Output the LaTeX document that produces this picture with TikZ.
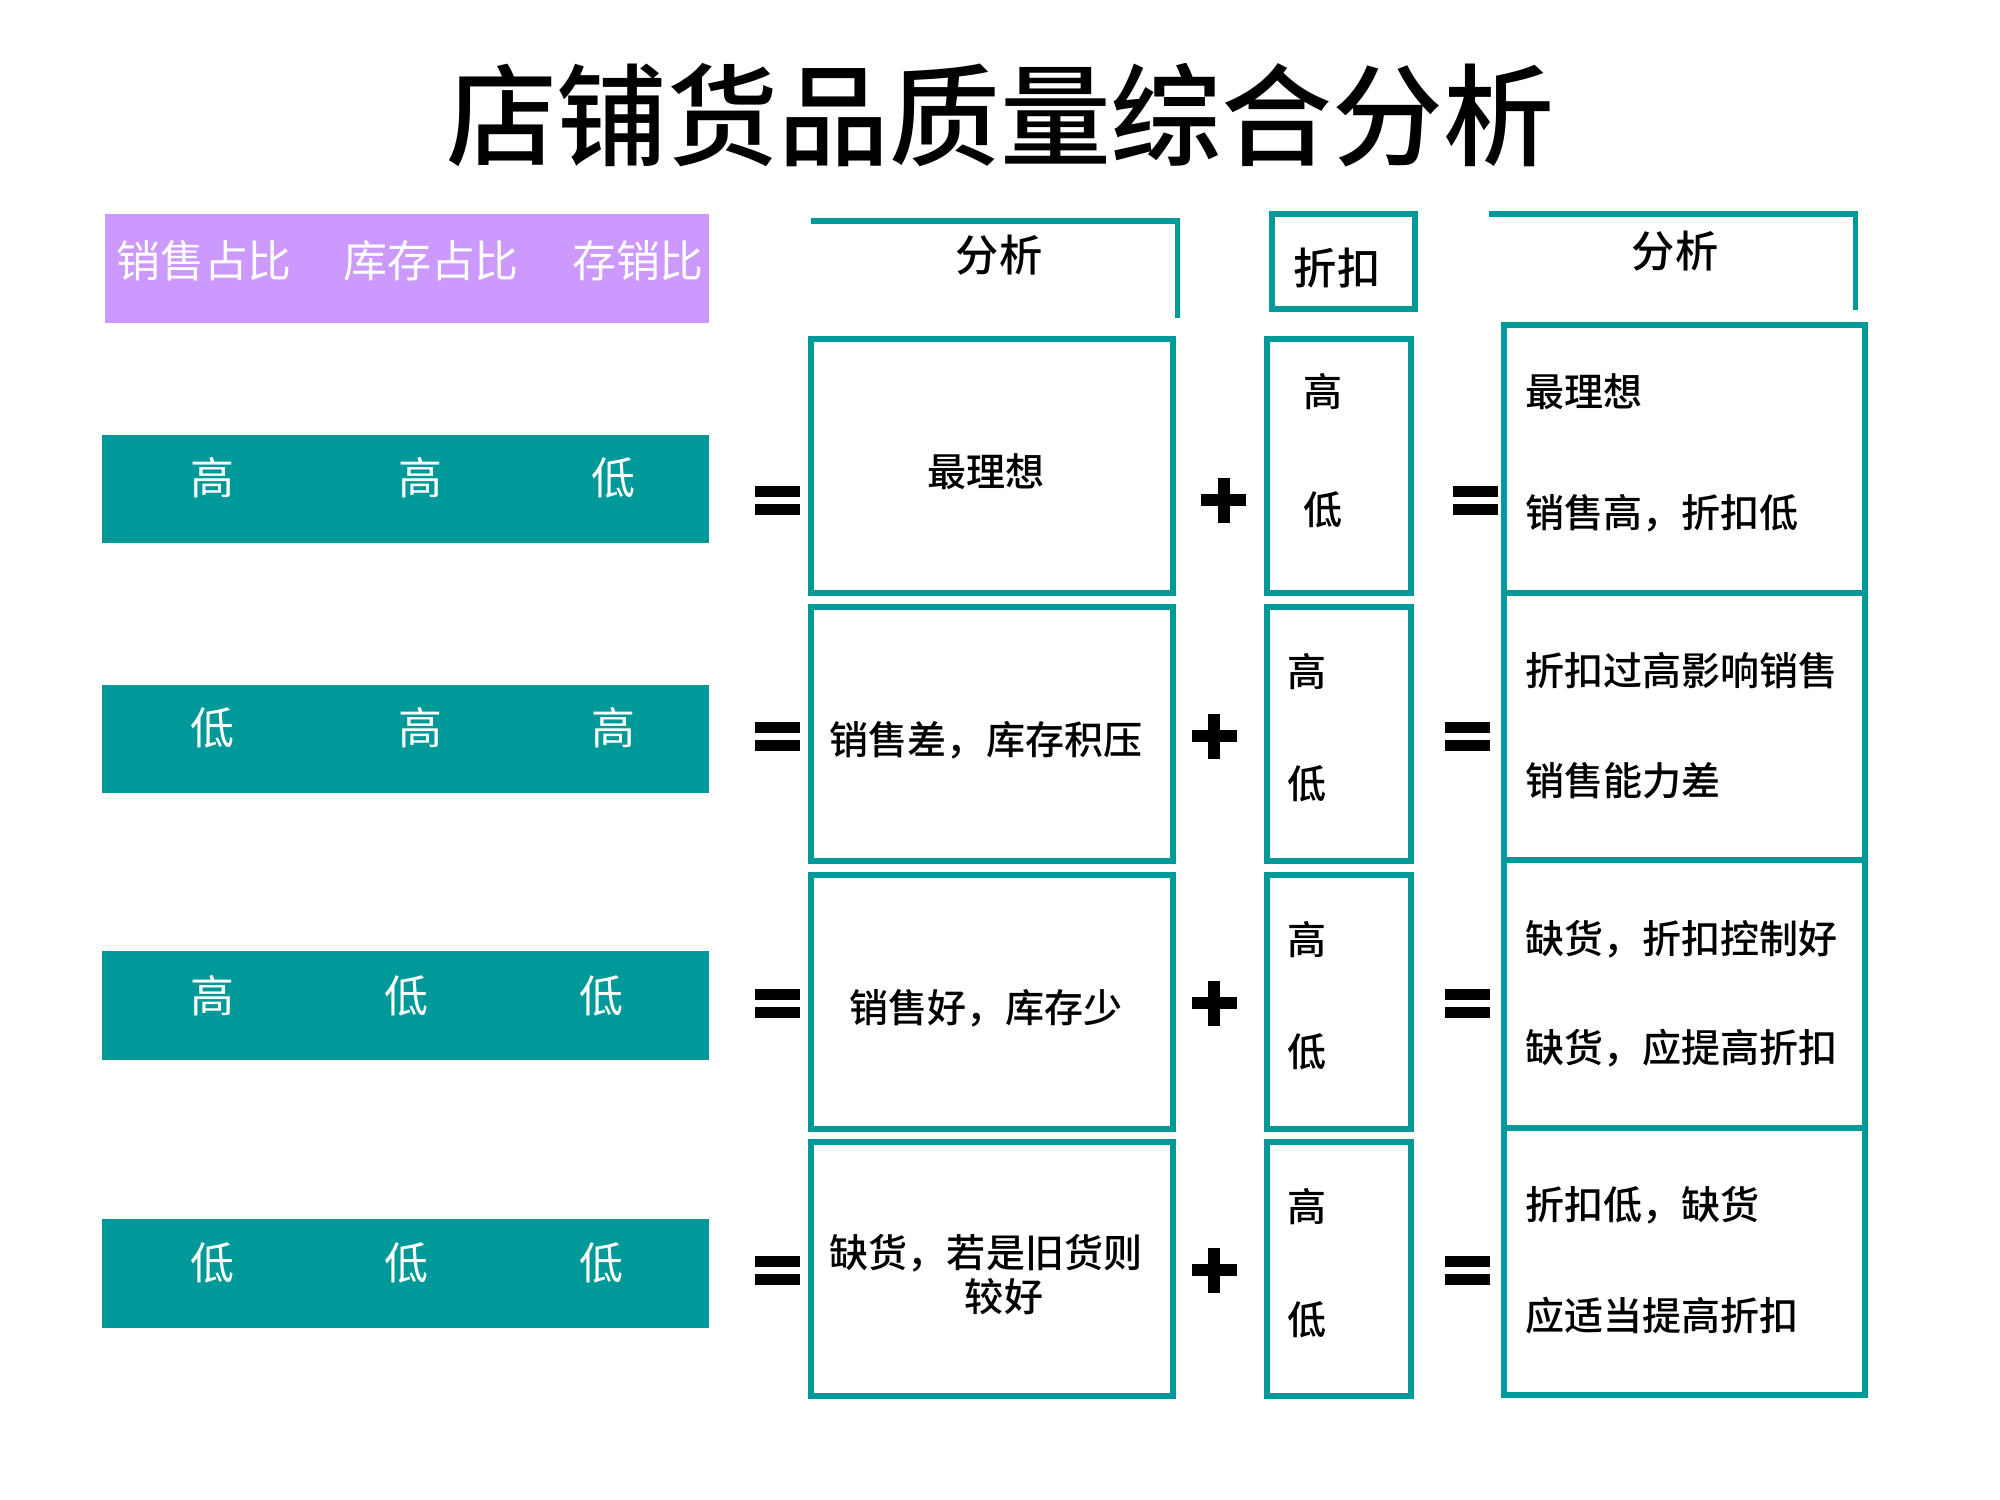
\documentclass[tikz,border=0pt]{standalone}
\usepackage{fontspec}
\newfontfamily\cjk{Noto Sans CJK SC}
\newfontfamily\cjkm{Noto Sans CJK SC Medium}
\definecolor{tealc}{HTML}{009999}
\definecolor{purplec}{HTML}{CC99FF}
\begin{document}
\begin{tikzpicture}[x=0.01cm,y=-0.01cm,
  every node/.style={inner sep=0pt,outer sep=0pt},
  bar/.style={fill=tealc,minimum width=6.07cm,minimum height=1.08cm},
  bartext/.style={text=white,font=\cjk\fontsize{12.5}{14}\selectfont},
  abox/.style={draw=tealc,line width=0.06cm,minimum width=3.62cm,minimum height=2.54cm},
  dbox/.style={draw=tealc,line width=0.06cm,minimum width=1.43cm,minimum height=2.54cm},
  rbox/.style={draw=tealc,line width=0.06cm,minimum width=3.61cm,minimum height=2.675cm},
  btext/.style={text=black,font=\cjkm\fontsize{11.1}{12.5}\selectfont},
  htext/.style={text=black,font=\cjkm\fontsize{12.3}{14}\selectfont},
  bracket/.style={draw=tealc,line width=0.05cm},
  sym/.style={fill=black}]
\useasboundingbox (0,0) rectangle (2000,1500);

% title
\node[font=\cjkm\fontsize{31.5}{36}\selectfont] (title) at (1000,115) {店铺货品质量综合分析};

% purple header
\node[fill=purplec,minimum width=6.04cm,minimum height=1.09cm] (hdr) at (407,268.5) {};
\node[bartext] (h1) at (204,261) {销售占比};
\node[bartext] (h2) at (431,261) {库存占比};
\node[bartext] (h3) at (638,261) {存销比};

% teal rows
\node[bar] (r1) at (405.5,489) {};
\node[bar] (r2) at (405.5,739) {};
\node[bar] (r3) at (405.5,1005.5) {};
\node[bar] (r4) at (405.5,1273.5) {};
\node[bartext] (r1a) at (212,478) {高};
\node[bartext] (r1b) at (420,478) {高};
\node[bartext] (r1c) at (613,478) {低};
\node[bartext] (r2a) at (212,728) {低};
\node[bartext] (r2b) at (420,728) {高};
\node[bartext] (r2c) at (613,728) {高};
\node[bartext] (r3a) at (212,996) {高};
\node[bartext] (r3b) at (406,996) {低};
\node[bartext] (r3c) at (601,996) {低};
\node[bartext] (r4a) at (212,1263) {低};
\node[bartext] (r4b) at (406,1263) {低};
\node[bartext] (r4c) at (601,1263) {低};

% analysis header bracket
\coordinate (b1s) at (811,221);
\coordinate (b1c) at (1177.5,221);
\coordinate (b1e) at (1177.5,318);
\draw[bracket] (b1s) -- (b1c) -- (b1e);
\node[htext] (ah) at (999,255) {分析};

% discount header
\node[draw=tealc,line width=0.06cm,minimum width=1.43cm,minimum height=0.95cm] (dh) at (1343.5,261.5) {};
\node[htext] (dht) at (1337,268) {折扣};

% right analysis header bracket
\coordinate (b2s) at (1489,214);
\coordinate (b2c) at (1855,214);
\coordinate (b2e) at (1855,310);
\draw[bracket] (b2s) -- (b2c) -- (b2e);
\node[htext] (rh) at (1675,251) {分析};

% analysis boxes
\node[abox] (a1) at (992,466) {};
\node[abox] (a2) at (992,734) {};
\node[abox] (a3) at (992,1002) {};
\node[abox] (a4) at (992,1269) {};
\node[btext] (a1t) at (986,472) {最理想};
\node[btext] (a2t) at (986,740) {销售差，库存积压};
\node[btext] (a3t) at (986,1008) {销售好，库存少};
\node[btext] (a4t) at (986,1253) {缺货，若是旧货则};
\node[btext] (a4u) at (1004,1297) {较好};

% discount boxes
\node[dbox] (d1) at (1339,466) {};
\node[dbox] (d2) at (1339,734) {};
\node[dbox] (d3) at (1339,1002) {};
\node[dbox] (d4) at (1339,1269) {};
\node[btext] (d1h) at (1323,392) {高};
\node[btext] (d1l) at (1323,510) {低};
\node[btext] (d2h) at (1307,672) {高};
\node[btext] (d2l) at (1307,784) {低};
\node[btext] (d3h) at (1307,940) {高};
\node[btext] (d3l) at (1307,1052) {低};
\node[btext] (d4h) at (1307,1207) {高};
\node[btext] (d4l) at (1307,1320) {低};

% result boxes
\node[rbox] (e1) at (1684.5,459) {};
\node[rbox] (e2) at (1684.5,726.5) {};
\node[rbox] (e3) at (1684.5,994) {};
\node[rbox] (e4) at (1684.5,1261.5) {};
\node[btext,anchor=west] (e1a) at (1525,392) {最理想};
\node[btext,anchor=west] (e1b) at (1525,513) {销售高，折扣低};
\node[btext,anchor=west] (e2a) at (1525,671) {折扣过高影响销售};
\node[btext,anchor=west] (e2b) at (1525,781) {销售能力差};
\node[btext,anchor=west] (e3a) at (1525,939) {缺货，折扣控制好};
\node[btext,anchor=west] (e3b) at (1525,1048) {缺货，应提高折扣};
\node[btext,anchor=west] (e4a) at (1525,1205) {折扣低，缺货};
\node[btext,anchor=west] (e4b) at (1525,1316) {应适当提高折扣};

% symbols
\foreach \n/\x/\y in {q1/777.5/500,q2/777.5/736,q3/777.5/1003,q4/777.5/1270,
                      s1/1475.5/500,s2/1467/736,s3/1467/1003,s4/1467/1270}{
  \coordinate (\n) at (\x,\y);
  \fill[sym] (\n) ++(-22.5,-14.5) rectangle ++(45,11);
  \fill[sym] (\n) ++(-22.5,4) rectangle ++(45,10.5);
}
\foreach \n/\x/\y in {p1/1223.5/500,p2/1214/736,p3/1214/1003,p4/1214/1270}{
  \coordinate (\n) at (\x,\y);
  \fill[sym] (\n) ++(-6,-22.5) rectangle ++(12,45);
  \fill[sym] (\n) ++(-22.5,-6) rectangle ++(45,12);
}
\end{tikzpicture}
\end{document}
